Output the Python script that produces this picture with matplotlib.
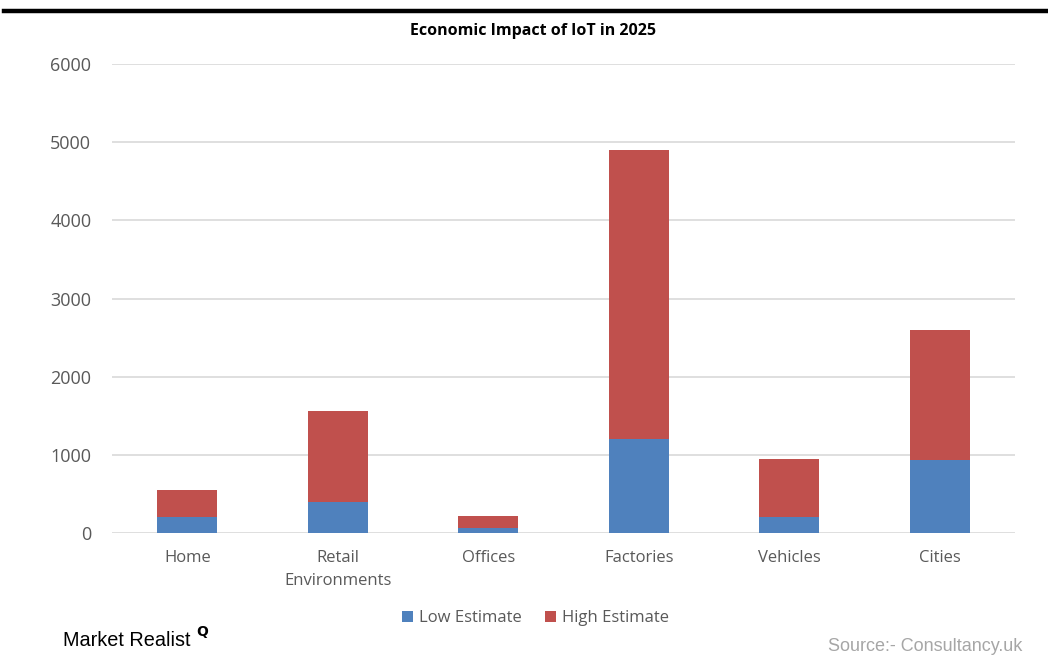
import matplotlib
matplotlib.use("Agg")
import matplotlib.pyplot as plt
import numpy as np

categories = ["Home", "Retail\nEnvironments", "Offices", "Factories", "Vehicles", "Cities"]
low_estimate = [200, 400, 70, 1200, 200, 930]
high_estimate = [350, 1160, 150, 3700, 750, 1670]
yticks = [0, 1000, 2000, 3000, 4000, 5000, 6000]

BLUE = "#4F81BD"
RED = "#C0504D"
GRAY = "#595959"

plt.rcParams['font.family'] = ['Open Sans', 'DejaVu Sans']

fig = plt.figure(figsize=(10.48, 6.56), dpi=100)
ax = fig.add_axes([0.107, 0.1875, 0.8615, 0.7149])

x = np.arange(len(categories))
ax.bar(x, low_estimate, width=0.4, color=BLUE, label="Low Estimate", zorder=3)
ax.bar(x, high_estimate, width=0.4, bottom=low_estimate, color=RED, label="High Estimate", zorder=3)

ax.set_xlim(-0.5, len(categories) - 0.5)
ax.set_ylim(0, 6000)
ax.set_yticks(yticks)
ax.set_yticklabels([str(v) for v in yticks], fontsize=13, color=GRAY)
ax.set_xticks(x)
ax.set_xticklabels(categories, fontsize=12, color=GRAY, linespacing=1.65)
ax.tick_params(axis='both', length=0)
ax.tick_params(axis='y', pad=15)
ax.tick_params(axis='x', pad=12)
ax.grid(axis='y', color="#D9D9D9", linewidth=1.2, zorder=0)
for s in ax.spines.values():
    s.set_visible(False)

fig.text(0.509, 0.953, "Economic Impact of IoT in 2025", ha='center', va='center',
         fontsize=11.5, fontweight='bold', color='black')

# top border line
fig.add_artist(plt.Line2D([0.004, 1.0], [0.983, 0.983], color='black', linewidth=3.2,
                          transform=fig.transFigure))

leg = fig.legend(loc='center', bbox_to_anchor=(0.511, 0.058), ncol=2, frameon=False,
                 fontsize=12, handlelength=0.65, handleheight=0.65, handletextpad=0.35,
                 columnspacing=1.4)
for t in leg.get_texts():
    t.set_color(GRAY)

fig.text(0.06, 0.023, "Market Realist", ha='left', va='center', fontsize=14.3, color='black',
         family=['Liberation Sans', 'DejaVu Sans'])
fig.text(0.187, 0.036, "Q", ha='left', va='center', fontsize=10, color='black', fontweight='bold',
         family=['DejaVu Sans'])
fig.text(0.976, 0.015, "Source:- Consultancy.uk", ha='right', va='center', fontsize=13,
         color="#A6A6A6", family=['Liberation Sans', 'DejaVu Sans'])

fig.savefig("out.png", dpi=100)
